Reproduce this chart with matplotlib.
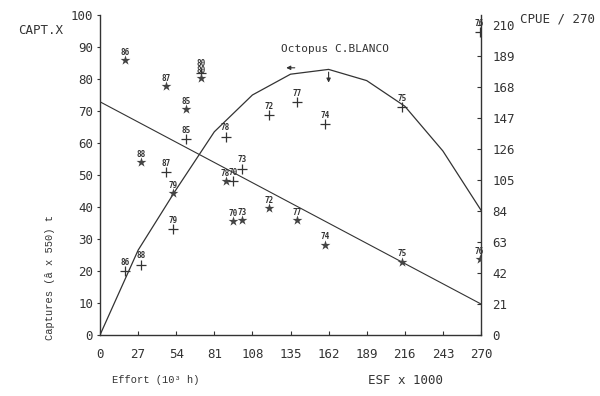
import numpy as np
import matplotlib
matplotlib.use("Agg")
import matplotlib.pyplot as plt

# DATA
# fitted catch curve (left axis, captures x 550 t) vs effort
curve_effort = [0, 27, 54, 81, 108, 135, 162, 189, 216, 243, 270]
curve_catch = [0, 26.5, 45.5, 63.5, 75, 81.5, 83, 79.5, 71.5, 57.5, 39]

# fitted CPUE line (right axis)
cpue_line_effort = [0, 270]
cpue_line = [158, 21]

# yearly observations
years = ["86", "88", "87", "79", "85", "80", "78", "70", "73", "72", "77", "74", "75", "76"]
effort = [17.5, 29, 46.7, 52, 61, 71.6, 89, 94, 100.5, 120, 139.5, 159.5, 214, 269]
catch = [20, 22, 51, 33, 61.3, 82, 62, 48, 52, 68.8, 72.8, 66, 71.3, 94.7]
cpue = [186, 117, 168.7, 96, 153, 174, 104.3, 77.2, 77.9, 86, 77.9, 61, 49.5, 51.5]

x_ticks = [0, 27, 54, 81, 108, 135, 162, 189, 216, 243, 270]
y_ticks = [0, 10, 20, 30, 40, 50, 60, 70, 80, 90, 100]
y2_ticks = [0, 21, 42, 63, 84, 105, 126, 147, 168, 189, 210]

msy_effort = 162
msy_catch = 83

DOT = "DejaVu Sans Mono"
TYPE = "Liberation Mono"
INK = "#333333"

fig = plt.figure(figsize=(6, 3.96), dpi=100)
ax = fig.add_axes([100/600, 61/396, 381/600, 320/396])
ax2 = ax.twinx()

ax.set_xlim(0, 270)
ax.set_ylim(0, 100)
ax2.set_ylim(0, 100 * 2.168)

# lines
ax.plot(curve_effort, curve_catch, color=INK, lw=0.9)
ax2.plot(cpue_line_effort, cpue_line, color=INK, lw=0.8)

# observations
ax.scatter(effort, catch, marker="+", s=50, color=INK, lw=0.9, zorder=3)
ax2.scatter(effort, cpue, marker="*", s=55, color="#444444", lw=0, zorder=3)
for yr, e, c in zip(years, effort, catch):
    ax.annotate(yr, (e, c), xytext=(0, 3), textcoords="offset points",
                ha="center", va="bottom", fontsize=5.5, family=DOT,
                color=INK, fontweight="bold")
for yr, e, c in zip(years, effort, cpue):
    ax2.annotate(yr, (e, c), xytext=(0, 2.5), textcoords="offset points",
                 ha="center", va="bottom", fontsize=5.5, family=DOT,
                 color=INK, fontweight="bold")

# MSY marker and left arrow
ax.annotate("", xy=(msy_effort, msy_catch - 5), xytext=(msy_effort, msy_catch),
            arrowprops=dict(arrowstyle="-|>", color=INK, lw=0.8, mutation_scale=6))
ax.annotate("", xy=(130, 83.5), xytext=(140, 83.5),
            arrowprops=dict(arrowstyle="-|>", color=INK, lw=0.8, mutation_scale=6))
ax.text(128, 89.5, "Octopus C.BLANCO", fontsize=8, family=DOT, color=INK,
        ha="left", va="center")

# axes styling
for a in (ax, ax2):
    a.spines["top"].set_visible(False)
    for s in a.spines.values():
        s.set_color(INK)
        s.set_linewidth(1.0)
ax.spines["right"].set_visible(False)
ax2.spines["left"].set_visible(False)
ax2.spines["bottom"].set_visible(False)

ax.set_xticks(x_ticks)
ax.set_xticklabels([str(v) for v in x_ticks], family=DOT, fontsize=9, color=INK)
ax.set_yticks(y_ticks)
ax.set_yticklabels([str(v) for v in y_ticks], family=DOT, fontsize=9, color=INK)
ax2.set_yticks(y2_ticks)
ax2.set_yticklabels([str(v) for v in y2_ticks], family=DOT, fontsize=9, color=INK)
ax.tick_params(axis="x", direction="in", length=3, pad=9, colors=INK)
ax.tick_params(axis="y", direction="out", length=2, pad=3, colors=INK)
ax2.tick_params(axis="y", direction="in", length=3, pad=8, colors=INK)

# titles / labels
fig.text(18/600, 1 - 30/396, "CAPT.X", family=DOT, fontsize=9, color=INK,
         ha="left", va="center")
fig.text(520/600, 1 - 19/396, "CPUE / 270", family=DOT, fontsize=9, color=INK,
         ha="left", va="center")
fig.text(50/600, 1 - 278/396, "Captures (â x 550) t", family=TYPE, fontsize=7.5,
         color=INK, rotation=90, ha="center", va="center")
fig.text(112/600, 1 - 380/396, "Effort (10³ h)", family=TYPE, fontsize=7.5,
         color=INK, ha="left", va="center")
fig.text(368/600, 1 - 381/396, "ESF x 1000", family=DOT, fontsize=9, color=INK,
         ha="left", va="center")

fig.savefig("out.png", dpi=100)
